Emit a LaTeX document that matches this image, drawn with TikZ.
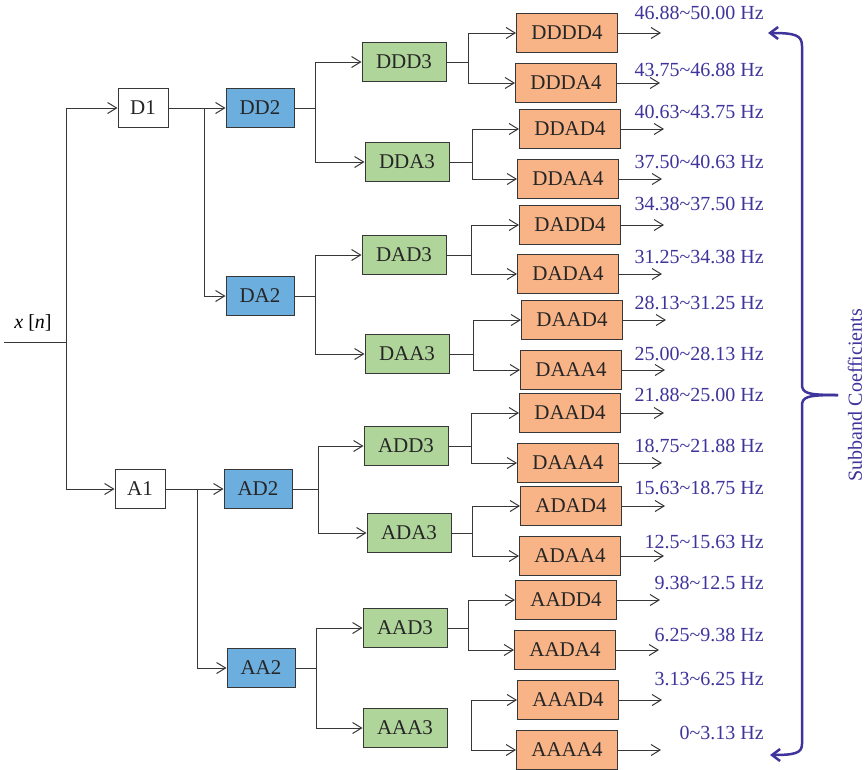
\documentclass[tikz,border=0pt]{standalone}
\usepackage{fontspec}
\setmainfont{Liberation Serif}
\usetikzlibrary{arrows.meta,positioning}
\definecolor{boxblue}{RGB}{108,174,222}
\definecolor{boxgreen}{RGB}{176,213,155}
\definecolor{boxorange}{RGB}{248,180,134}
\definecolor{bandblue}{RGB}{62,52,155}
\definecolor{wiregrey}{RGB}{55,55,55}
\tikzset{
	box/.style={draw=wiregrey,line width=1pt,rectangle,minimum height=39pt,
		inner sep=0pt,font=\fontsize{21}{21}\selectfont,text=black!85},
	lvlone/.style={box,minimum width=50pt,fill=white},
	lvltwo/.style={box,minimum width=68pt,fill=boxblue},
	lvlthree/.style={box,minimum width=84pt,fill=boxgreen},
	lvlfour/.style={box,minimum width=101pt,fill=boxorange},
	band/.style={anchor=east,inner sep=0pt,text=bandblue,font=\fontsize{20}{20}\selectfont},
	wire/.style={draw=wiregrey,line width=1pt},
	arr/.style={wire,-{Straight Barb[length=9pt,width=11pt]}},
	brace/.style={draw=bandblue,line width=2.5pt,{Straight Barb[length=8pt,width=12pt]}-}
}

\begin{document}
\begin{tikzpicture}[x=1pt,y=-1pt]
\useasboundingbox (0,0) rectangle (865,769);

% level 1 and 2
\node[lvlone] (D1) at (143,108) {D1};
\node[lvlone] (A1) at (140,489) {A1};
\node[lvltwo] (DD2) at (260,108) {DD2};
\node[lvltwo] (DA2) at (260,296) {DA2};
\node[lvltwo] (AD2) at (258,489) {AD2};
\node[lvltwo] (AA2) at (261,668) {AA2};

% level 3
\node[lvlthree] (DDD3) at (404,62) {DDD3};
\node[lvlthree] (DDA3) at (407,162) {DDA3};
\node[lvlthree] (DAD3) at (404,255) {DAD3};
\node[lvlthree] (DAA3) at (407,354) {DAA3};
\node[lvlthree] (ADD3) at (406,446) {ADD3};
\node[lvlthree] (ADA3) at (409,533) {ADA3};
\node[lvlthree] (AAD3) at (405,628) {AAD3};
\node[lvlthree] (AAA3) at (405,728) {AAA3};

% level 4
\node[lvlfour] (DDDD4) at (567,33) {DDDD4};
\node[lvlfour] (DDDA4) at (566,83) {DDDA4};
\node[lvlfour] (DDAD4) at (570,129) {DDAD4};
\node[lvlfour] (DDAA4) at (568,179) {DDAA4};
\node[lvlfour] (DADD4) at (570,225) {DADD4};
\node[lvlfour] (DADA4) at (568,274) {DADA4};
\node[lvlfour] (DAAD4) at (572,320) {DAAD4};
\node[lvlfour] (DAAA4) at (571,370) {DAAA4};
\node[lvlfour] (ADDD4) at (570,413) {DAAD4};
\node[lvlfour] (ADDA4) at (568,463) {DAAA4};
\node[lvlfour] (ADAD4) at (571,506) {ADAD4};
\node[lvlfour] (ADAA4) at (570,556) {ADAA4};
\node[lvlfour] (AADD4) at (566,600) {AADD4};
\node[lvlfour] (AADA4) at (565,650) {AADA4};
\node[lvlfour] (AAAD4) at (568,700) {AAAD4};
\node[lvlfour] (AAAA4) at (567,750) {AAAA4};

% input
\coordinate (xin) at (4,342);
\coordinate (j0) at (66,342);
\node[band,anchor=center,text=black] (xn) at (33,323) {\itshape x\/ \upshape[\itshape n\/\upshape]};
\draw[wire] (xin) -- (j0);
\draw[arr] (j0) |- (D1);
\draw[arr] (j0) |- (A1);

% level 1 -> 2
\coordinate (jD1) at (204,108);
\coordinate (jA1) at (197,489);
\draw[arr] (D1) -- (DD2);
\draw[arr] (jD1) |- (DA2);
\draw[arr] (A1) -- (AD2);
\draw[arr] (jA1) |- (AA2);

% level 2 -> 3
\coordinate (jDD2) at (315,108);
\coordinate (jDA2) at (315,296);
\coordinate (jAD2) at (318,489);
\coordinate (jAA2) at (316,668);
\draw[arr] (DD2) -- (jDD2) |- (DDD3);
\draw[arr] (jDD2) |- (DDA3);
\draw[arr] (DA2) -- (jDA2) |- (DAD3);
\draw[arr] (jDA2) |- (DAA3);
\draw[arr] (AD2) -- (jAD2) |- (ADD3);
\draw[arr] (jAD2) |- (ADA3);
\draw[arr] (AA2) -- (jAA2) |- (AAD3);
\draw[arr] (jAA2) |- (AAA3);

% level 3 -> 4
\coordinate (jDDD3) at (468,62);
\coordinate (jDDA3) at (472,162);
\coordinate (jDAD3) at (471,255);
\coordinate (jDAA3) at (473,354);
\coordinate (jADD3) at (471,446);
\coordinate (jADA3) at (472,533);
\coordinate (jAAD3) at (468,628);
\coordinate (jAAA3) at (471,728);
\draw[arr] (DDD3) -- (jDDD3) |- (DDDD4);
\draw[arr] (jDDD3) |- (DDDA4);
\draw[arr] (DDA3) -- (jDDA3) |- (DDAD4);
\draw[arr] (jDDA3) |- (DDAA4);
\draw[arr] (DAD3) -- (jDAD3) |- (DADD4);
\draw[arr] (jDAD3) |- (DADA4);
\draw[arr] (DAA3) -- (jDAA3) |- (DAAD4);
\draw[arr] (jDAA3) |- (DAAA4);
\draw[arr] (ADD3) -- (jADD3) |- (ADDD4);
\draw[arr] (jADD3) |- (ADDA4);
\draw[arr] (ADA3) -- (jADA3) |- (ADAD4);
\draw[arr] (jADA3) |- (ADAA4);
\draw[arr] (AAD3) -- (jAAD3) |- (AADD4);
\draw[arr] (jAAD3) |- (AADA4);
\draw[arr] (jAAA3) |- (AAAD4);
\draw[arr] (jAAA3) |- (AAAA4);

% outputs
\draw[arr] (DDDD4.east) -- +(43,0);
\draw[arr] (DDDA4.east) -- +(43,0);
\draw[arr] (DDAD4.east) -- +(43,0);
\draw[arr] (DDAA4.east) -- +(43,0);
\draw[arr] (DADD4.east) -- +(43,0);
\draw[arr] (DADA4.east) -- +(43,0);
\draw[arr] (DAAD4.east) -- +(43,0);
\draw[arr] (DAAA4.east) -- +(43,0);
\draw[arr] (ADDD4.east) -- +(43,0);
\draw[arr] (ADDA4.east) -- +(43,0);
\draw[arr] (ADAD4.east) -- +(43,0);
\draw[arr] (ADAA4.east) -- +(43,0);
\draw[arr] (AADD4.east) -- +(43,0);
\draw[arr] (AADA4.east) -- +(43,0);
\draw[arr] (AAAD4.east) -- +(43,0);
\draw[arr] (AAAA4.east) -- +(43,0);

% subbands
\node[band] (b16) at (764,13) {46.88\textasciitilde 50.00 Hz};
\node[band] (b15) at (764,70) {43.75\textasciitilde 46.88 Hz};
\node[band] (b14) at (764,112) {40.63\textasciitilde 43.75 Hz};
\node[band] (b13) at (764,162) {37.50\textasciitilde 40.63 Hz};
\node[band] (b12) at (764,204) {34.38\textasciitilde 37.50 Hz};
\node[band] (b11) at (764,257) {31.25\textasciitilde 34.38 Hz};
\node[band] (b10) at (764,303) {28.13\textasciitilde 31.25 Hz};
\node[band] (b9) at (764,354) {25.00\textasciitilde 28.13 Hz};
\node[band] (b8) at (764,395) {21.88\textasciitilde 25.00 Hz};
\node[band] (b7) at (764,446) {18.75\textasciitilde 21.88 Hz};
\node[band] (b6) at (764,488) {15.63\textasciitilde 18.75 Hz};
\node[band] (b5) at (764,542) {12.5\textasciitilde 15.63 Hz};
\node[band] (b4) at (764,583) {9.38\textasciitilde 12.5 Hz};
\node[band] (b3) at (764,635) {6.25\textasciitilde 9.38 Hz};
\node[band] (b2) at (764,679) {3.13\textasciitilde 6.25 Hz};
\node[band] (b1) at (764,733) {0\textasciitilde 3.13 Hz};

% brace
\coordinate (btop) at (768,33);
\coordinate (bbot) at (770,755);
\coordinate (bmid) at (838,395);
\draw[brace] (btop) .. controls (795,33) and (802,35) .. (802,46) -- (802,384)
	.. controls (802,393) and (806,395) .. (bmid);
\draw[brace] (bbot) .. controls (795,755) and (802,753) .. (802,744) -- (802,406)
	.. controls (802,397) and (806,395) .. (bmid);
\node[band,anchor=center,rotate=90] (coef) at (855,395) {Subband Coefficients};

\end{tikzpicture}
\end{document}
